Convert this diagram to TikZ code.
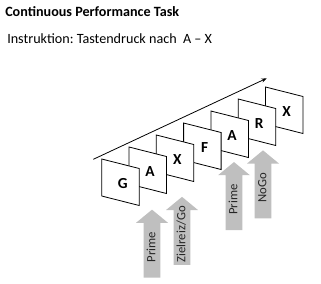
\documentclass[tikz,border=0pt]{standalone}
\usepackage{fontspec}
\setmainfont{Carlito}
\usepackage{xcolor}
\usetikzlibrary{arrows.meta, shapes.arrows}

\definecolor{cueGray}{HTML}{BFBFBF}
\frenchspacing

\begin{document}
\begin{tikzpicture}[
  x=0.75pt, y=-0.75pt,
  card/.style={draw=black, fill=white, line width=0.6pt, line join=miter},
  cardletter/.style={font=\bfseries\fontsize{11.5}{12}\selectfont, inner sep=0pt},
  cue/.style={single arrow, rotate=90, anchor=tip, fill=cueGray, draw=none,
              minimum height=51pt, inner xsep=1pt, inner ysep=1.5pt,
              text height=7pt, text depth=2pt,
              single arrow head extend=5.8pt, single arrow tip angle=101,
              font=\fontsize{9.5}{10}\selectfont, text=black!85},
  arr/.style={-{Stealth[length=4pt, width=3pt]}, line width=0.6pt},
  head/.style={anchor=base west, inner sep=0pt},
]
  \useasboundingbox (0,0) rectangle (321,283);

  % heading
  \node[head, font=\bfseries\fontsize{10.6}{12}\selectfont] (title) at (5,16.7)
    {Continuous Performance Task};
  \node[head, font=\fontsize{10.6}{12}\selectfont] (instr) at (7,43.3)
    {Instruktion: Tastendruck nach\ \ A -- X};

  % time axis
  \coordinate (t0) at (93.3,159.3);
  \coordinate (t1) at (266.7,78.3);
  \draw[arr] (t0) -- (t1);

  % letter cards, back to front
  \foreach \i/\l in {6/X,5/R,4/A,3/F,2/X,1/A,0/G} {
    \filldraw[card] ({101.7+27.3*\i},{159-12*\i}) coordinate (c\i)
      -- ++(37.5,9.5) -- ++(0,37) -- ++(-37.5,-9.5) -- cycle;
    \node[cardletter] (l\i) at ({122.7+27.3*\i},{184-12*\i}) {\l};
  }

  % cue arrows under the cards
  \node[cue] (prime1) at (152,209.3) {Prime};
  \node[cue] (target) at (182,196.5) {Zielreiz/Go};
  \node[cue] (prime2) at (234,161.7) {Prime};
  \node[cue] (nogo)   at (263,150)   {NoGo};
\end{tikzpicture}
\end{document}
